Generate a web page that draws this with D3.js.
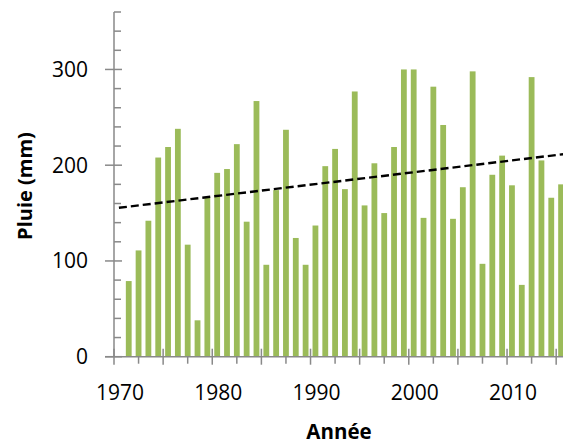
<!DOCTYPE html>
<html>
<head>
<meta charset="utf-8">
<script src="https://cdn.jsdelivr.net/npm/d3@7"></script>
<style>
  html, body { margin: 0; padding: 0; background: #fff; overflow: hidden; }
  text { font-family: "Open Sans", "Liberation Sans", sans-serif; fill: #000; }
</style>
</head>
<body>
<svg id="chart" width="563" height="444"></svg>
<script>
const years = d3.range(1971, 2016);
const rainfall = [79, 111, 142, 208, 219, 238, 117, 38, 166, 192,
                  196, 222, 141, 267, 96, 174, 237, 124, 96, 137,
                  199, 217, 175, 277, 158, 202, 150, 219, 300, 300,
                  145, 282, 242, 144, 177, 298, 97, 190, 210, 179,
                  75, 292, 205, 166, 180];
const yTicks = [0, 100, 200, 300];
const xTickLabels = [1970, 1980, 1990, 2000, 2010];
const yTitle = "Pluie (mm)";
const xTitle = "Année";

const svg = d3.select("#chart");
const axisColor = "#898989";

const x = d3.scaleLinear().domain([1969.5, 2015.5]).range([114, 566]);
const y = d3.scaleLinear().domain([0, 360]).range([356.7, 12]);
const barW = 5.8;

// bars
svg.append("g").selectAll("rect")
  .data(years.map((yr, i) => ({yr, v: rainfall[i]})))
  .join("rect")
  .attr("x", d => x(d.yr) - barW / 2)
  .attr("width", barW)
  .attr("y", d => y(d.v))
  .attr("height", d => y(0) - y(d.v))
  .attr("fill", "#9bbb59");

// linear trend (least squares)
const mx = d3.mean(years), my = d3.mean(rainfall);
let num = 0, den = 0;
years.forEach((yr, i) => { num += (yr - mx) * (rainfall[i] - my); den += (yr - mx) * (yr - mx); });
const slope = num / den, icpt = my - slope * mx;
const trendX = [1970, 2015.2];
svg.append("line")
  .attr("x1", x(trendX[0])).attr("y1", y(icpt + slope * trendX[0]))
  .attr("x2", x(trendX[1])).attr("y2", y(icpt + slope * trendX[1]))
  .attr("stroke", "#000").attr("stroke-width", 2.4)
  .attr("stroke-dasharray", "8,4");

// y axis
const yAxisG = svg.append("g");
yAxisG.append("line").attr("x1", 114).attr("x2", 114).attr("y1", y(360)).attr("y2", y(0))
  .attr("stroke", axisColor).attr("stroke-width", 1.5);
const yMinor = d3.range(0, 361, 20).filter(v => v % 100 !== 0);
yAxisG.selectAll(".ymin").data(yMinor).join("line")
  .attr("x1", 114).attr("x2", 121).attr("y1", d => y(d)).attr("y2", d => y(d))
  .attr("stroke", axisColor).attr("stroke-width", 1.5);
yAxisG.selectAll(".ymaj").data(yTicks).join("line")
  .attr("x1", 105).attr("x2", 122).attr("y1", d => y(d)).attr("y2", d => y(d))
  .attr("stroke", axisColor).attr("stroke-width", 1.5);
yAxisG.selectAll("text").data(yTicks).join("text")
  .attr("x", 88).attr("y", d => y(d)).attr("dy", "0.35em")
  .attr("text-anchor", "end").attr("font-size", 21)
  .text(d => d);

// x axis
const xAxisG = svg.append("g");
xAxisG.append("line").attr("x1", 105).attr("x2", 563).attr("y1", y(0)).attr("y2", y(0))
  .attr("stroke", axisColor).attr("stroke-width", 1.5);
const xMajor = d3.range(1969.5, 2016, 5);
const xMinor = d3.range(1972, 2016, 5);
xAxisG.selectAll(".xmaj").data(xMajor).join("line")
  .attr("x1", d => x(d)).attr("x2", d => x(d)).attr("y1", y(0) - 8).attr("y2", y(0) + 8)
  .attr("stroke", axisColor).attr("stroke-width", 1.5);
xAxisG.selectAll(".xmin").data(xMinor).join("line")
  .attr("x1", d => x(d)).attr("x2", d => x(d)).attr("y1", y(0)).attr("y2", y(0) + 7)
  .attr("stroke", axisColor).attr("stroke-width", 1.5);
xAxisG.selectAll("text").data(xTickLabels).join("text")
  .attr("x", d => x(d) + 1).attr("y", 400)
  .attr("text-anchor", "middle").attr("font-size", 21)
  .text(d => d);

// titles
svg.append("text")
  .attr("transform", "translate(32,186) rotate(-90)")
  .attr("text-anchor", "middle").attr("font-size", 20).attr("font-weight", "bold")
  .text(yTitle);
svg.append("text")
  .attr("x", 339).attr("y", 439)
  .attr("text-anchor", "middle").attr("font-size", 20.5).attr("font-weight", "bold")
  .text(xTitle);
</script>
</body>
</html>
